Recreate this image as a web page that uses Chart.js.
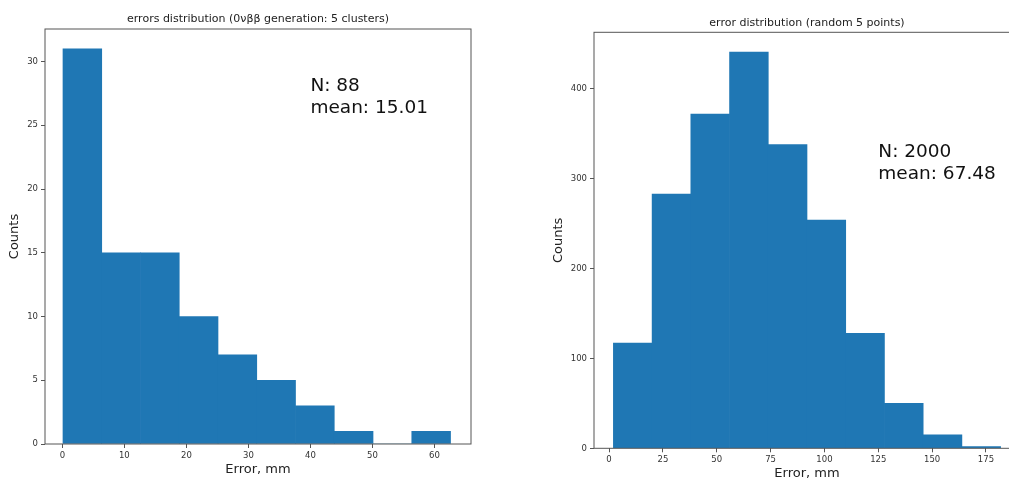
<!DOCTYPE html>
<html>
<head>
<meta charset="utf-8">
<script src="https://cdn.jsdelivr.net/npm/chart.js@4.4.1/dist/chart.umd.min.js"></script>
<style>
  html, body { margin: 0; padding: 0; background: #fff; overflow: hidden; width: 1009px; height: 480px; }
  canvas { position: absolute; top: 0; }
  #left-chart { left: 0; }
  #right-chart { left: 540px; }
</style>
</head>
<body>
<canvas id="left-chart" width="500" height="480"></canvas>
<canvas id="right-chart" width="480" height="490"></canvas>
<script>
// left: 0vββ generation, 5 clusters
const clusterEdges = [0.1, 6.35, 12.6, 18.85, 25.1, 31.35, 37.6, 43.85, 50.1, 56.35, 62.6];
const clusterCounts = [31, 15, 15, 10, 7, 5, 3, 1, 0, 1];
const clusterXTicks = [0, 10, 20, 30, 40, 50, 60];
const clusterYTicks = [0, 5, 10, 15, 20, 25, 30];
const clusterStats = ['N: 88', 'mean: 15.01'];

// right: random 5 points
const randomEdges = [2.0, 19.98, 37.96, 55.94, 73.92, 91.9, 109.88, 127.86, 145.84, 163.82, 181.8];
const randomCounts = [117, 283, 372, 441, 338, 254, 128, 50, 15, 2];
const randomXTicks = [0, 25, 50, 75, 100, 125, 150, 175];
const randomYTicks = [0, 100, 200, 300, 400];
const randomStats = ['N: 2000', 'mean: 67.48'];

const FONT = "'DejaVu Sans', sans-serif";
const BLUE = '#1f77b4';

const toPoints = (edges, counts) =>
  counts.map((c, i) => ({ x: (edges[i] + edges[i + 1]) / 2, y: c }));

// axes frame + stats text
const framePlugin = {
  id: 'frame',
  afterDatasetsDraw(chart, args, opts) {
    const { ctx, chartArea: a, scales } = chart;
    ctx.save();
    ctx.strokeStyle = '#555';
    ctx.lineWidth = 1;
    ctx.strokeRect(a.left, a.top, a.right - a.left, a.bottom - a.top);
    ctx.fillStyle = '#111';
    ctx.font = '18.5px ' + FONT;
    ctx.textBaseline = 'alphabetic';
    const x = scales.x.getPixelForValue(opts.at.x);
    const y = scales.y.getPixelForValue(opts.at.y);
    opts.lines.forEach((t, i) => {
      ctx.fillText(t, x, y - (opts.lines.length - 1 - i) * 21.5);
    });
    ctx.restore();
  }
};

function histogram(id, edges, counts, xTicks, yTicks, cfg) {
  new Chart(document.getElementById(id), {
    type: 'bar',
    data: {
      datasets: [{
        data: toPoints(edges, counts),
        backgroundColor: BLUE,
        borderWidth: 0,
        barPercentage: 1,
        categoryPercentage: 1
      }]
    },
    options: {
      responsive: false,
      animation: false,
      layout: { padding: { left: 0, right: cfg.padRight, top: 0, bottom: 0 } },
      plugins: {
        legend: { display: false },
        tooltip: { enabled: false },
        title: {
          display: true,
          text: cfg.title,
          fullSize: false,
          color: '#222',
          font: { family: FONT, size: 11, weight: 'normal' },
          padding: cfg.titlePad
        },
        frame: { at: cfg.statsAt, lines: cfg.stats }
      },
      scales: {
        x: {
          type: 'linear',
          offset: false,
          min: cfg.xMin, max: cfg.xMax,
          afterBuildTicks: s => { s.ticks = xTicks.map(v => ({ value: v })); },
          afterFit: s => { s.height = cfg.xAxisH; },
          border: { display: false },
          grid: { offset: false, drawOnChartArea: false, drawTicks: true, tickLength: 4, color: '#555' },
          ticks: { color: '#333', font: { family: FONT, size: 8.5 }, padding: cfg.xTickPad, maxRotation: 0 },
          title: { display: true, text: 'Error, mm', color: '#222', font: { family: FONT, size: 13 }, padding: { top: 0, bottom: cfg.xTitlePad } }
        },
        y: {
          min: 0, max: cfg.yMax,
          afterBuildTicks: s => { s.ticks = yTicks.map(v => ({ value: v })); },
          afterFit: s => { s.width = cfg.yAxisW; },
          border: { display: false },
          grid: { drawOnChartArea: false, drawTicks: true, tickLength: 4, color: '#555' },
          ticks: { color: '#333', font: { family: FONT, size: 8.5 }, padding: 3 },
          title: { display: true, text: 'Counts', color: '#222', font: { family: FONT, size: 13 }, padding: { top: cfg.yTitlePad, bottom: 0 } }
        }
      }
    },
    plugins: [framePlugin]
  });
}

histogram('left-chart', clusterEdges, clusterCounts, clusterXTicks, clusterYTicks, {
  title: 'errors distribution (0\u03bd\u03b2\u03b2 generation: 5 clusters)',
  titlePad: { top: 12.4, bottom: 3.4 },
  xMin: -2.8, xMax: 65.9, yMax: 32.55,
  padRight: 29, yAxisW: 45, xAxisH: 36,
  xTickPad: 3, xTitlePad: 2.2, yTitlePad: 7,
  statsAt: { x: 40, y: 26 }, stats: clusterStats
});

histogram('right-chart', randomEdges, randomCounts, randomXTicks, randomYTicks, {
  title: 'error distribution (random 5 points)',
  titlePad: { top: 16.1, bottom: 3 },
  xMin: -7.0, xMax: 190.8, yMax: 463,
  padRight: 0, yAxisW: 54, xAxisH: 41.7,
  xTickPad: 2, xTitlePad: 8.2, yTitlePad: 11,
  statsAt: { x: 125, y: 300 }, stats: randomStats
});
</script>
</body>
</html>
